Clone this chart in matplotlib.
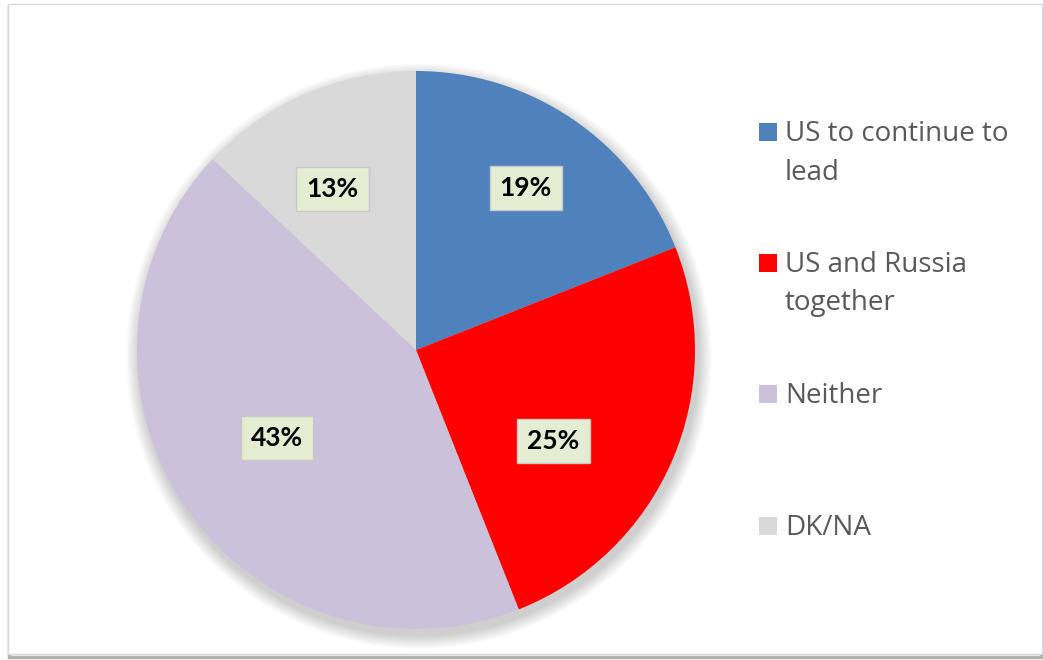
import matplotlib
matplotlib.use("Agg")
import numpy as np
import matplotlib.pyplot as plt
from matplotlib.patches import Rectangle, Circle

labels = ["US to continue to\nlead", "US and Russia\ntogether", "Neither", "DK/NA"]
values = [19, 25, 43, 13]
colors = ["#4F81BD", "#FF0000", "#CCC1DA", "#D9D9D9"]

# per-slice label placement (distance from centre, angle nudge in degrees)
label_dist = [0.70, 0.59, 0.59, 0.65]
label_nudge = [0, -10, -2, 4]

W, H = 1043, 660
fig = plt.figure(figsize=(W / 100, H / 100), dpi=100)
fig.patch.set_facecolor("white")

# chart frame with a bottom shadow (kept behind the axes)
fig.add_artist(Rectangle((9 / W, 3 / H), 1032 / W, 651 / H, transform=fig.transFigure,
                         facecolor="none", edgecolor="#7F7F7F", lw=2.5, alpha=0.6, zorder=-2))
fig.add_artist(Rectangle((8 / W, 6 / H), 1034 / W, 650 / H, transform=fig.transFigure,
                         facecolor="white", edgecolor="#D9D9D9", lw=1, zorder=-1))

# pie axes: center (416, 350) px, radius 279 px
cx, cy, r = 416, 350, 279
ax = fig.add_axes([(cx - r) / W, (H - cy - r) / H, 2 * r / W, 2 * r / H])
ax.patch.set_visible(False)

# soft shadow
for i in range(8):
    ax.add_patch(Circle((0.010, -0.022), 1.0 + 0.006 * (8 - i), facecolor="black",
                        edgecolor="none", alpha=0.025, zorder=0, clip_on=False))

wedges, texts, autotexts = ax.pie(
    values, colors=colors, startangle=90, counterclock=False, radius=1.0,
    autopct="%d%%", pctdistance=0.70,
    wedgeprops=dict(edgecolor="none", linewidth=0),
    textprops=dict(fontsize=19, fontweight="bold", color="black", family="Lato"),
)
for w, t, d, nud in zip(wedges, autotexts, label_dist, label_nudge):
    w.set_zorder(2)
    mid = np.deg2rad((w.theta1 + w.theta2) / 2 + nud)
    t.set_position((d * np.cos(mid), d * np.sin(mid)))
    t.set_zorder(5)
    t.set_bbox(dict(boxstyle="square,pad=0.38", facecolor="#E4EDD2", edgecolor="#C8C8C8", lw=1))

# pie() resets limits to +-1.25, so set them afterwards
ax.set_xlim(-1, 1)
ax.set_ylim(-1, 1)
ax.set_aspect("equal")
ax.axis("off")

# legend drawn by hand so the marker sits on the first line
leg_y = [132, 263, 394, 526]
for lab, col, y in zip(labels, colors, leg_y):
    fig.add_artist(Rectangle((759 / W, (H - y - 9) / H), 18 / W, 18 / H,
                             transform=fig.transFigure, facecolor=col, edgecolor="none"))
    fig.text(785 / W, (H - y + 12) / H, lab, fontsize=20, color="#595959",
             va="top", ha="left", family="Open Sans", linespacing=1.5)

fig.savefig("out.png", dpi=100)
